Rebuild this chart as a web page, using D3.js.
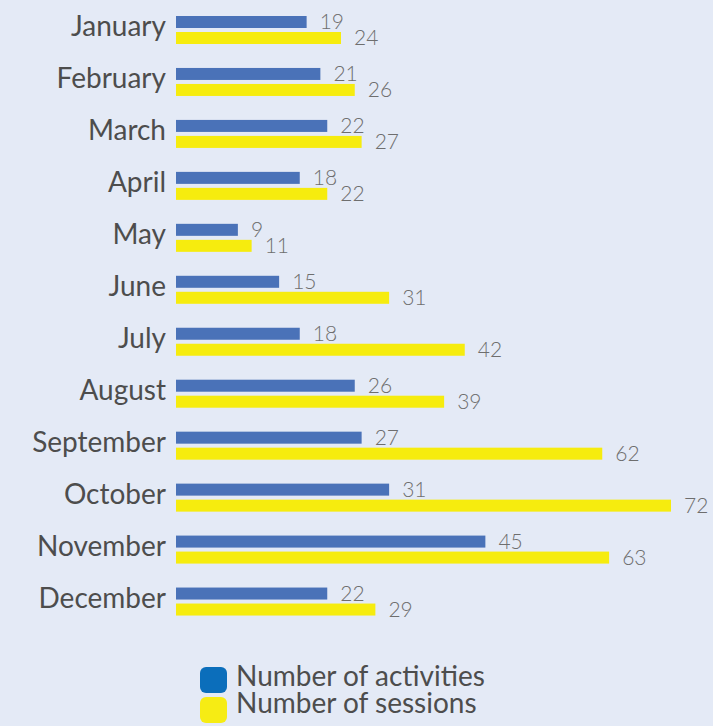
<!DOCTYPE html>
<html><head><meta charset="utf-8">
<script src="https://cdn.jsdelivr.net/npm/d3@7"></script>
<style>
html,body{margin:0;padding:0;background:#e4eaf6;}
svg{display:block;font-family:Lato,"Open Sans",sans-serif;}
</style></head>
<body>
<svg id="chart" width="713" height="726"></svg>
<script>
const months = ["January","February","March","April","May","June","July","August","September","October","November","December"];
const activities = [19,21,22,18,9,15,18,26,27,31,45,22];
const sessions = [24,26,27,22,11,31,42,39,62,72,63,29];
const seriesNames = ["Number of activities","Number of sessions"];
const barColors = ["#4a72b8","#f6ec0e"];
const legendColors = ["#0b6ebb","#f6ec14"];

const svg = d3.select("#chart");
svg.append("rect").attr("width",713).attr("height",726).attr("fill","#e4eaf6");

const x0 = 176;
const x = d3.scaleLinear().domain([0,72]).range([0,495]);
const y = d3.scaleBand().domain(months).range([-1, 622.5]).paddingInner(0).paddingOuter(0);
const barH = 12, gap = 4, topOff = 17;

const g = svg.append("g");
const rows = g.selectAll("g.row").data(months).join("g")
  .attr("class","row")
  .attr("transform", d => `translate(0,${y(d)})`);

rows.append("text")
  .attr("x", 166).attr("y", topOff + 20)
  .attr("text-anchor","end")
  .attr("font-size", 28)
  .attr("fill","#4d4d4d")
  .text(d => d);

const series = [activities, sessions];
series.forEach((vals, si) => {
  rows.append("rect")
    .attr("x", x0)
    .attr("y", topOff + si*(barH+gap))
    .attr("width", (d,i) => x(vals[i]))
    .attr("height", barH)
    .attr("fill", barColors[si]);
  rows.append("text")
    .attr("x", (d,i) => x0 + x(vals[i]) + 13)
    .attr("y", topOff + si*(barH+gap) + barH + 1)
    .attr("font-size", 21)
    .attr("font-weight", 300)
    .attr("fill","#6e6e6e")
    .text((d,i) => vals[i]);
});

const leg = svg.append("g").attr("transform","translate(200,667)");
seriesNames.forEach((n, i) => {
  leg.append("rect").attr("x",0).attr("y", i*30).attr("width",27).attr("height",26)
    .attr("rx",6).attr("fill", legendColors[i]);
  leg.append("text").attr("x",36).attr("y", i*27 + 19)
    .attr("font-size", 28).attr("fill","#4d4d4d").text(n);
});
</script>
</body></html>
